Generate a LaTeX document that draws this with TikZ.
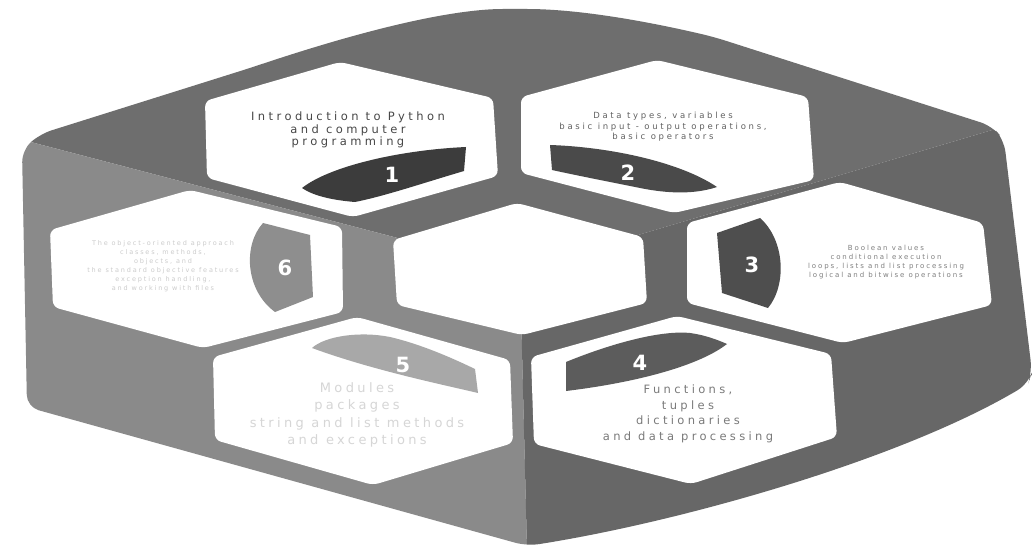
\documentclass[tikz,border=0pt]{standalone}
\usepackage{fontspec}
\setmainfont{DejaVu Sans}
\definecolor{topface}{HTML}{6E6E6E}
\definecolor{leftface}{HTML}{8A8A8A}
\definecolor{rightface}{HTML}{676767}
\definecolor{bandA}{HTML}{3C3C3C}
\definecolor{bandB}{HTML}{4A4A4A}
\definecolor{bandC}{HTML}{4E4E4E}
\definecolor{bandD}{HTML}{5C5C5C}
\definecolor{bandE}{HTML}{A8A8A8}
\definecolor{bandF}{HTML}{8E8E8E}
\begin{document}
\begin{tikzpicture}[x=1pt,y=-1pt,
  hexcell/.style={fill=white, rounded corners=6pt},
  numtext/.style={text=white, inner sep=0pt, font=\fontsize{21}{21}\selectfont\bfseries},
  celltext/.style={align=center, inner sep=0pt}]
\useasboundingbox (0,0) rectangle (1034,548);
\fill[white] (0,0) rectangle (1034,548);
% outer faceted shape
\coordinate (oC) at (520,270);
\begin{scope}
\clip[rounded corners=12pt] (27,407) -- (22,150) -- (40,134) -- (250,68)
  .. controls (400,18) and (470,9) .. (515,9)
  .. controls (580,9) and (650,22) .. (714,37)
  -- (992,126) -- (1004,140) -- (1032,372) -- (1028,384)
  .. controls (900,460) and (680,522) .. (527,546) -- cycle;
\fill[topface] (oC) -- (-126,101) -- (-126,-100) -- (1200,-100) -- (1144,85) -- cycle;
\fill[leftface] (oC) -- (-126,101) -- (-126,700) -- (529,629) -- cycle;
\fill[rightface] (oC) -- (1144,85) -- (1200,700) -- (529,629) -- cycle;
\end{scope}
% hexagon cells
\fill[hexcell] (340,62) -- (493,98) -- (498,176) -- (353,217) -- (207,178) -- (205,101) -- cycle;
\fill[hexcell] (657,60) -- (808,97) -- (814,180) -- (674,213) -- (521,173) -- (521,97) -- cycle;
\fill[hexcell] (190,190) -- (342,227) -- (343,312) -- (203,348) -- (53,307) -- (50,230) -- cycle;
\fill[hexcell] (517,203) -- (643,237) -- (647,303) -- (522,335) -- (397,305) -- (393,240) -- cycle;
\fill[hexcell] (840,182) -- (983,223) -- (992,305) -- (843,343) -- (687,303) -- (687,223) -- cycle;
\fill[hexcell] (357,317) -- (510,360) -- (513,443) -- (373,485) -- (215,440) -- (213,357) -- cycle;
\fill[hexcell] (677,316) -- (831,354) -- (837,437) -- (691,484) -- (534,444) -- (531,357) -- cycle;
% number bands
\fill[bandA] (302,188) .. controls (330,166) and (400,150) .. (466,147) -- (464,171)
  .. controls (420,184) and (385,196) .. (355,202) .. controls (330,200) and (312,195) .. cycle;
\fill[bandB] (550,145) .. controls (610,147) and (680,162) .. (717,187)
  .. controls (690,196) and (660,192) .. (640,188) .. controls (600,180) and (570,174) .. (552,170) -- cycle;
\fill[bandC] (760,218) .. controls (785,240) and (787,285) .. (768,308)
  -- (722,293) -- (717,233) -- cycle;
\fill[bandF] (263,223) .. controls (243,245) and (245,290) .. (275,312)
  -- (313,297) -- (310,235) -- cycle;
\fill[bandE] (312,348) .. controls (325,336) and (360,331) .. (390,337)
  .. controls (420,344) and (450,357) .. (475,369) -- (478,393)
  .. controls (440,384) and (372,370) .. cycle;
\fill[bandD] (566,362) .. controls (610,344) and (660,330) .. (690,333)
  .. controls (705,335) and (718,340) .. (727,344)
  .. controls (700,365) and (640,382) .. (566,391) -- cycle;
% numbers
\node[numtext] (n1) at (392,175) {1};
\node[numtext] (n2) at (628,173) {2};
\node[numtext] (n3) at (752,265) {3};
\node[numtext] (n4) at (640,363) {4};
\node[numtext] (n5) at (403,365) {5};
\node[numtext] (n6) at (285,268) {6};
% texts
\node[celltext, text=black!72, font=\fontsize{11.5}{12.5}\selectfont\addfontfeatures{LetterSpace=30}] (t1) at (348,130)
  {Introduction to Python\\and computer\\programming};
\node[celltext, text=black!62, font=\fontsize{8.5}{10.5}\selectfont\addfontfeatures{LetterSpace=32}] (t2) at (663,127)
  {Data types, variables\\basic input - output operations,\\basic operators};
\node[celltext, text=black!50, font=\fontsize{7}{9}\selectfont\addfontfeatures{LetterSpace=27}] (t3) at (886,262)
  {Boolean values\\conditional execution\\loops, lists and list processing\\logical and bitwise operations};
\node[celltext, text=black!20, font=\fontsize{6.5}{9}\selectfont\addfontfeatures{LetterSpace=28}] (t6) at (163,266)
  {The object-oriented approach\\classes, methods,\\objects, and\\the standard objective features\\exception handling,\\and working with files};
\node[celltext, text=black!16, font=\fontsize{13}{17.5}\selectfont\addfontfeatures{LetterSpace=26}] (t5) at (357,415)
  {Modules\\packages\\string and list methods\\and exceptions};
\node[celltext, text=black!52, font=\fontsize{11.5}{15.5}\selectfont\addfontfeatures{LetterSpace=29}] (t4) at (688,414)
  {Functions,\\tuples\\dictionaries\\and data processing};
\end{tikzpicture}
\end{document}
